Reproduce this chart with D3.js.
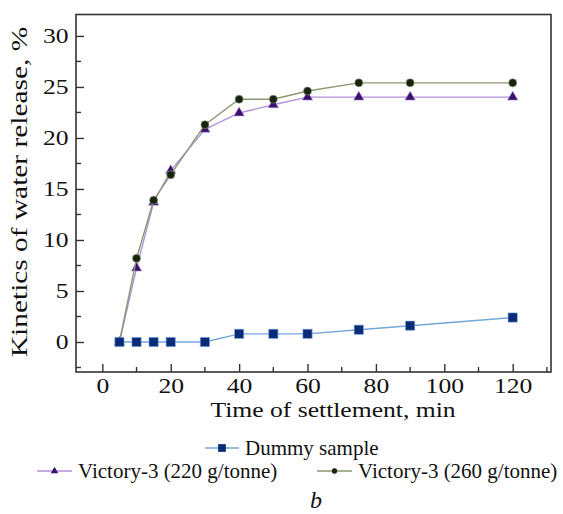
<!DOCTYPE html>
<html>
<head>
<meta charset="utf-8">
<script src="https://cdn.jsdelivr.net/npm/d3@7/dist/d3.min.js"></script>
<style>
  html, body { margin: 0; padding: 0; background: #fff; }
  svg { display: block; }
</style>
</head>
<body>
<svg id="chart" width="563" height="514"></svg>
<script>
// Settlement time, min
const times = [5, 10, 15, 20, 30, 40, 50, 60, 75, 90, 120];
// Water release, %
const dummySample = [0, 0, 0, 0, 0, 0.8, 0.8, 0.8, 1.2, 1.6, 2.4];
const victory220 = [0, 7.25, 13.7, 16.8, 20.85, 22.45, 23.25, 24.0, 24.0, 24.0, 24.0];
const victory260 = [0, 8.2, 13.9, 16.4, 21.3, 23.8, 23.8, 24.6, 25.4, 25.4, 25.4];

const seriesNames = ["Dummy sample", "Victory-3 (220 g/tonne)", "Victory-3 (260 g/tonne)"];
const xTickLabels = [0, 20, 40, 60, 80, 100, 120];
const yTickLabels = [0, 5, 10, 15, 20, 25, 30];
const xMinorTicks = [10, 30, 50, 70, 90, 110, 130];
const yMinorTicks = [-2.5, 2.5, 7.5, 12.5, 17.5, 22.5, 27.5];

const SERIF = "'Liberation Serif', 'Times New Roman', Times, serif";
const STRETCH = 1.25;   // axis lettering is set wide
const svg = d3.select("#chart");
const box = { left: 76, right: 551, top: 14.5, bottom: 372 };

const x = d3.scaleLinear().domain([-7.7, 131.2]).range([box.left, box.right]);
const y = d3.scaleLinear().domain([-2.94, 32.1]).range([box.bottom, box.top]);

const axisColor = "#333";

function serifText(sel, size) {
  return sel.style("font-family", SERIF).style("font-size", size + "px").style("fill", "#111");
}

// frame
svg.append("rect")
  .attr("x", box.left).attr("y", box.top)
  .attr("width", box.right - box.left).attr("height", box.bottom - box.top)
  .attr("fill", "none").attr("stroke", axisColor).attr("stroke-width", 1.6);

// x axis: inward major ticks with labels
const gx = svg.append("g").attr("transform", `translate(0,${box.bottom})`)
  .call(d3.axisBottom(x).tickValues(xTickLabels).tickSize(-8).tickPadding(6));
gx.select(".domain").remove();
gx.selectAll(".tick line").attr("stroke", axisColor).attr("stroke-width", 1.4);
serifText(gx.selectAll(".tick text"), 20.5)
  .attr("transform", `scale(${STRETCH},1)`);
// x minor ticks
svg.append("g").selectAll("line").data(xMinorTicks).join("line")
  .attr("x1", d => x(d)).attr("x2", d => x(d))
  .attr("y1", box.bottom).attr("y2", box.bottom - 5)
  .attr("stroke", axisColor).attr("stroke-width", 1.4);

// y axis
const gy = svg.append("g").attr("transform", `translate(${box.left},0)`)
  .call(d3.axisLeft(y).tickValues(yTickLabels).tickSize(-8));
gy.select(".domain").remove();
gy.selectAll(".tick line").attr("stroke", axisColor).attr("stroke-width", 1.4);
serifText(gy.selectAll(".tick text"), 20.5)
  .attr("x", -7.5 / STRETCH)
  .attr("transform", `scale(${STRETCH},1)`);
svg.append("g").selectAll("line").data(yMinorTicks).join("line")
  .attr("x1", box.left).attr("x2", box.left + 5)
  .attr("y1", d => y(d)).attr("y2", d => y(d))
  .attr("stroke", axisColor).attr("stroke-width", 1.4);

// axis titles
serifText(svg.append("text"), 20.5)
  .attr("transform", `translate(333,417) scale(${STRETCH},1)`)
  .attr("text-anchor", "middle")
  .text("Time of settlement, min");
serifText(svg.append("text"), 23.5)
  .attr("transform", `translate(27,192) rotate(-90) scale(${STRETCH},1)`)
  .attr("text-anchor", "middle")
  .text("Kinetics of water release, %");

// series
const styles = [
  { values: dummySample, line: "#74a7da", mark: "#0b2a78", symbol: d3.symbolSquare, size: 85, legendSize: 60 },
  { values: victory220, line: "#b192d9", mark: "#3b0f6e", symbol: d3.symbolTriangle, size: 46, legendSize: 24 },
  { values: victory260, line: "#8c9872", mark: "#16240f", symbol: d3.symbolCircle, size: 50, legendSize: 22 }
];

const line = d3.line().x(d => x(d[0])).y(d => y(d[1]));

// Dummy sample goes last so its square sits on top at t = 5
[1, 2, 0].forEach(i => {
  const s = styles[i];
  const pts = times.map((t, k) => [t, s.values[k]]);
  svg.append("path").datum(pts)
    .attr("d", line).attr("fill", "none")
    .attr("stroke", s.line).attr("stroke-width", 1.4);
  svg.append("g").selectAll("path").data(pts).join("path")
    .attr("transform", d => `translate(${x(d[0])},${y(d[1])})`)
    .attr("d", d3.symbol(s.symbol, s.size))
    .attr("fill", s.mark)
    .attr("stroke", s.line).attr("stroke-width", 0.6);
});

// legend
const legendItems = [
  { i: 0, x: 205, y: 448, w: 34 },
  { i: 1, x: 37, y: 471, w: 35 },
  { i: 2, x: 317, y: 471, w: 35 }
];
legendItems.forEach(it => {
  const s = styles[it.i];
  const g = svg.append("g");
  g.append("line")
    .attr("x1", it.x).attr("x2", it.x + it.w)
    .attr("y1", it.y).attr("y2", it.y)
    .attr("stroke", s.line).attr("stroke-width", 1.4);
  g.append("path")
    .attr("transform", `translate(${it.x + it.w / 2},${it.y})`)
    .attr("d", d3.symbol(s.symbol, s.legendSize))
    .attr("fill", s.mark);
  serifText(g.append("text"), 21)
    .attr("x", it.x + it.w + 6).attr("y", it.y + 7)
    .text(seriesNames[it.i]);
});

// panel letter
serifText(svg.append("text"), 24)
  .attr("x", 316).attr("y", 508)
  .attr("text-anchor", "middle")
  .style("font-style", "italic")
  .text("b");
</script>
</body>
</html>
